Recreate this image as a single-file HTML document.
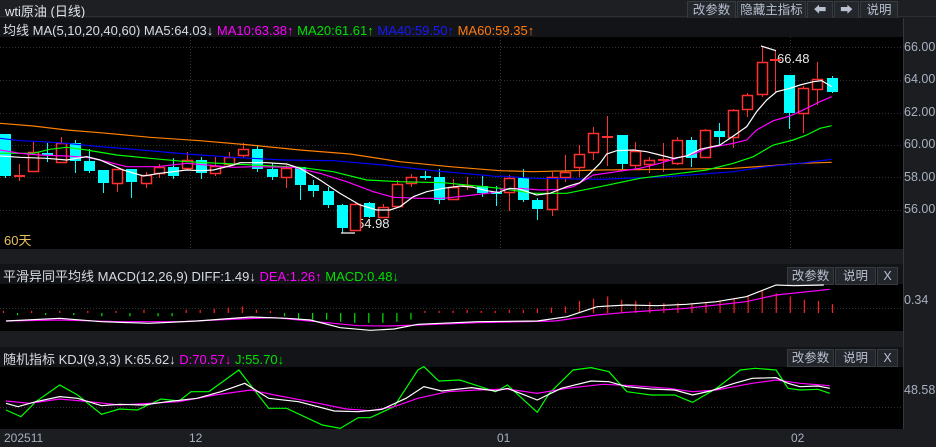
<!DOCTYPE html>
<html><head><meta charset="utf-8">
<style>
*{margin:0;padding:0;box-sizing:border-box}
body{width:936px;height:447px;background:#1b1d21;overflow:hidden;font-family:"Liberation Sans","Noto Sans CJK SC",sans-serif;position:relative}
.abs{position:absolute}
.t{font-size:13px;color:#d8dce4;white-space:nowrap}
.btn{position:absolute;background:#23262b;border:1px solid #363a41;color:#b8c0d0;font-size:12.5px;text-align:center;line-height:16px;height:18px}
.ax{position:absolute;font-size:12.5px;color:#a8b0c0;left:904px}
</style></head><body>
<div class="abs" style="left:0;top:0;width:936px;height:17px;background:#1d1f23;border-bottom:1px solid #2c2f35"></div>
<div class="abs t" style="left:5px;top:1px;font-size:13px;color:#e0e4ea">wti原油 (日线)</div>
<div class="btn" style="left:687px;top:1px;width:49px">改参数</div>
<div class="btn" style="left:737px;top:1px;width:69px">隐藏主指标</div>
<div class="btn" style="left:807px;top:1px;width:26px">⬅</div>
<div class="btn" style="left:834px;top:1px;width:25px">➡</div>
<div class="btn" style="left:860px;top:1px;width:38px">说明</div>
<div class="abs" style="left:0;top:18px;width:903px;height:19px;background:#131417"></div>
<div class="abs t" style="left:3px;top:20px">均线 MA(5,10,20,40,60) MA5:64.03↓ <span style="color:#ff00ff">MA10:63.38↑</span> <span style="color:#00e000">MA20:61.61↑</span> <span style="color:#1818ff">MA40:59.50↑</span> <span style="color:#ff7a10">MA60:59.35↑</span></div>
<div class="abs" style="left:0;top:37px;width:903px;height:212px;background:#000"></div>
<div class="abs" style="left:0;top:264px;width:903px;height:20px;background:#131417"></div>
<div class="abs t" style="left:3px;top:266px">平滑异同平均线 MACD(12,26,9) DIFF:1.49↓ <span style="color:#ff00ff">DEA:1.26↑</span> <span style="color:#00e000">MACD:0.48↓</span></div>
<div class="abs" style="left:0;top:284px;width:903px;height:47px;background:#000"></div>
<div class="abs" style="left:0;top:347px;width:903px;height:20px;background:#131417"></div>
<div class="abs t" style="left:3px;top:349px">随机指标 KDJ(9,3,3) K:65.62↓ <span style="color:#ff00ff">D:70.57↓</span> <span style="color:#00e000">J:55.70↓</span></div>
<div class="abs" style="left:0;top:367px;width:903px;height:62px;background:#000"></div>
<div class="abs" style="left:903px;top:18px;width:1px;height:411px;background:#34373d"></div>
<div class="btn" style="left:787px;top:267px;width:47px">改参数</div>
<div class="btn" style="left:835px;top:267px;width:41px">说明</div>
<div class="btn" style="left:877px;top:267px;width:21px">X</div>
<div class="btn" style="left:787px;top:349px;width:47px">改参数</div>
<div class="btn" style="left:835px;top:349px;width:41px">说明</div>
<div class="btn" style="left:877px;top:349px;width:21px">X</div>
<div class="ax" style="top:40px">66.00</div>
<div class="ax" style="top:72px">64.00</div>
<div class="ax" style="top:105px">62.00</div>
<div class="ax" style="top:137px">60.00</div>
<div class="ax" style="top:170px">58.00</div>
<div class="ax" style="top:202px">56.00</div>
<div class="ax" style="top:293px">0.34</div>
<div class="ax" style="top:383px">48.58</div>
<div class="abs t" style="left:4px;top:431px;color:#a8b0c0;font-size:12px">202511</div>
<div class="abs t" style="left:189px;top:431px;color:#a8b0c0;font-size:12px">12</div>
<div class="abs t" style="left:497px;top:431px;color:#a8b0c0;font-size:12px">01</div>
<div class="abs t" style="left:791px;top:431px;color:#a8b0c0;font-size:12px">02</div>
<div class="abs t" style="left:4px;top:230px;color:#e8c060">60天</div>
<div class="abs t" style="left:357px;top:216px;color:#e8e8e8">54.98</div>
<div class="abs t" style="left:777px;top:51px;color:#e8e8e8">66.48</div>
<svg class="abs" style="left:0;top:0" width="936" height="447" id="s">
<defs><clipPath id="c"><rect x="0" y="37" width="903" height="392"/></clipPath></defs>
<g stroke="#333" stroke-dasharray="1,2" stroke-width="1">
<line x1="0" x2="903" y1="47.5" y2="47.5"/><line x1="0" x2="903" y1="80.5" y2="80.5"/><line x1="0" x2="903" y1="113.5" y2="113.5"/><line x1="0" x2="903" y1="145.5" y2="145.5"/><line x1="0" x2="903" y1="177.5" y2="177.5"/><line x1="0" x2="903" y1="210.5" y2="210.5"/>
<line x1="0" x2="903" y1="308.5" y2="308.5"/><line x1="0" x2="903" y1="407.5" y2="407.5"/>
<line x1="190.5" x2="190.5" y1="37" y2="249"/><line x1="500.5" x2="500.5" y1="37" y2="249"/><line x1="790.5" x2="790.5" y1="37" y2="249"/>
</g>
<g id="cd" clip-path="url(#c)"></g>
<g clip-path="url(#c)" fill="none" stroke-width="1.2">
<g transform="translate(0,100) scale(0.33333)">
<polyline vector-effect="non-scaling-stroke" stroke="#ff8000" points="0,70 100,78 200,90 300,98 450,112 600,122 750,135 900,150 1050,162 1200,185 1350,200 1500,212"/>
<polyline vector-effect="non-scaling-stroke" stroke="#0000ff" points="0,115 60,122 130,125 200,130 300,140 400,148 560,162 700,172 850,180 1000,182 1150,195 1300,212 1500,230"/>
<polyline vector-effect="non-scaling-stroke" stroke="#00ff00" points="0,160 100,160 150,148 200,142 260,150 350,165 450,175 560,185 700,192 800,197 900,202 1000,215 1100,240 1200,245 1330,248 1430,258 1500,265"/>
<polyline vector-effect="non-scaling-stroke" stroke="#ff00ff" points="0,150 60,160 120,165 200,168 260,172 300,180 380,200 470,200 560,190 620,195 700,202 760,200 880,202 960,220 1040,245 1120,275 1180,292 1260,295 1330,295 1420,285 1500,275"/>
<polyline vector-effect="non-scaling-stroke" stroke="#ffffff" points="0,168 60,172 140,175 200,180 260,170 300,180 370,210 430,228 480,220 560,210 600,212 640,210 700,195 720,188 800,188 860,192 900,205 960,240 1020,280 1080,315 1130,330 1170,330 1200,320 1240,290 1280,275 1330,265 1380,258 1420,262 1460,272 1500,278"/>
</g>
<g transform="translate(500,30) scale(0.33333)">
<polyline vector-effect="non-scaling-stroke" stroke="#ff8000" points="0,422 100,425 300,420 500,418 700,415 800,408 900,400 995,397"/>
<polyline vector-effect="non-scaling-stroke" stroke="#0000ff" points="0,438 100,445 300,448 500,440 700,425 800,410 900,400 995,388"/>
<polyline vector-effect="non-scaling-stroke" stroke="#00ff00" points="0,475 100,490 200,490 300,470 420,445 540,430 620,420 700,400 760,380 820,345 880,330 920,315 960,295 995,287"/>
<polyline vector-effect="non-scaling-stroke" stroke="#ff00ff" points="0,478 60,475 120,480 180,478 220,470 280,435 350,425 420,415 480,400 540,382 580,372 620,355 700,340 740,330 770,300 820,272 870,258 920,235 960,215 995,200"/>
<polyline vector-effect="non-scaling-stroke" stroke="#ffffff" points="0,485 30,475 60,478 110,495 150,490 200,470 240,458 270,430 300,400 320,372 350,362 400,360 440,365 480,375 520,385 560,378 600,358 660,345 700,318 740,290 770,245 800,210 830,185 870,175 900,165 940,155 965,152 995,170"/>
<polyline vector-effect="non-scaling-stroke" stroke="#ffffff" points="783,48 828,62"/>
</g>
<polyline stroke="#fff" points="341,233 355,233"/>
<g id="hist"></g>
<g transform="translate(0,255) scale(0.597,0.33333)">
<polyline vector-effect="non-scaling-stroke" stroke="#ff00ff" points="10,198 100,195 200,200 300,200 400,192 460,188 530,200 600,212 650,213 700,210 800,203 930,198 1000,180 1050,172 1150,160 1250,140 1300,120 1390,103"/>
<polyline vector-effect="non-scaling-stroke" stroke="#ffffff" points="10,198 100,190 170,200 250,205 330,198 420,186 480,190 520,195 570,218 620,226 660,222 700,208 800,200 900,198 950,185 1000,155 1050,150 1100,152 1150,148 1200,140 1250,125 1300,90 1330,92 1380,90"/>
<polyline vector-effect="non-scaling-stroke" stroke="#00ff00" points="10,465 35,485 60,440 100,390 130,420 170,478 200,462 230,465 270,432 300,438 320,410 350,410 400,345 450,460 480,460 540,510 570,520 600,488 620,488 660,455 700,345 710,335 735,378 770,375 810,398 830,410 850,390 900,472 920,415 960,345 990,338 1020,350 1050,410 1090,420 1130,420 1160,442 1200,400 1240,345 1265,340 1300,345 1320,400 1340,405 1370,403 1390,415"/>
<polyline vector-effect="non-scaling-stroke" stroke="#ff00ff" points="10,438 50,445 100,432 150,440 200,450 250,445 300,440 360,420 420,405 460,420 520,440 580,462 620,467 660,455 700,430 750,410 800,405 850,402 900,415 950,400 1010,388 1060,392 1120,400 1160,410 1200,405 1260,385 1300,375 1340,385 1390,392"/>
<polyline vector-effect="non-scaling-stroke" stroke="#ffffff" points="10,445 30,455 60,440 100,425 130,430 170,452 200,448 240,450 280,440 330,430 370,410 410,385 450,430 500,440 560,468 600,470 640,463 680,430 710,395 740,408 790,398 830,408 850,400 900,435 940,400 990,378 1020,380 1050,395 1090,402 1130,405 1160,420 1190,408 1230,385 1260,370 1300,368 1320,385 1340,395 1370,393 1390,400"/>
</g>
</g>
</svg>
<script>
var C=[[5,'c',134,176,134,178],[19,'r',175,175,164,181],[33,'r',152,171,142,171],[47,'c',153,153,143,162],[61,'r',143,162,137,163],[75,'c',143,161,140,173],[89,'c',161,171,149,173],[103,'c',170,183,170,193],[117,'r',169,183,169,192],[131,'c',169,182,169,198],[146,'r',175,183,172,188],[159,'r',167,173,164,178],[173,'c',167,176,158,179],[187,'r',160,168,152,170],[201,'c',160,173,157,179],[215,'r',166,173,157,176],[229,'r',157,164,152,167],[243,'r',149,155,143,158],[257,'c',149,169,145,172],[272,'c',169,177,163,180],[286,'r',168,177,165,188],[300,'c',167,185,167,200],[313,'c',185,191,180,197],[328,'c',191,205,187,208],[342,'c',205,228,204,233],[355,'r',204,230,203,231],[369,'c',203,217,202,218],[383,'r',207,217,204,218],[397,'r',184,206,180,207],[411,'r',177,183,174,187],[425,'c',176,176,171,180],[439,'c',177,200,169,204],[453,'r',187,199,179,200],[467,'r',185,185,177,190],[482,'c',186,193,176,197],[496,'c',192,192,186,206],
[509,'r',178,192,175,211],[523,'c',178,200,169,202],[537,'c',200,209,198,220],[552,'r',177,209,172,216],[565,'r',172,177,155,182],[579,'r',154,167,145,177],[593,'r',133,152,127,160],[607,'r',136,136,116,166],[622,'c',135,164,135,169],[635,'r',151,165,142,170],[649,'r',160,164,157,173],[663,'r',159,159,143,172],[677,'r',140,163,137,165],[691,'c',140,158,137,167],[705,'r',130,157,129,158],[719,'c',131,137,123,145],[733,'r',110,137,109,148],[747,'r',95,109,93,117],[762,'r',62,94,46,97],[775,'r',59,59,51,92],[789,'c',75,113,75,129],[803,'r',88,113,86,133],[817,'r',79,89,62,105],[832,'c',78,92,76,93]];
var ns='http://www.w3.org/2000/svg',g=document.getElementById('cd'),h='';
C.forEach(function(c){var x=c[0],col=c[1]=='r'?'#ff3030':'#00ffff';
h+='<line x1="'+(x+.5)+'" x2="'+(x+.5)+'" y1="'+c[4]+'" y2="'+c[5]+'" stroke="'+col+'"/>';
var hh=c[3]-c[2];
if(hh<2){h+='<rect x="'+(x-5)+'" y="'+c[2]+'" width="11" height="2" fill="'+col+'"/>';}
else if(c[1]=='r'){h+='<rect x="'+(x-4.5)+'" y="'+(c[2]+.5)+'" width="10" height="'+hh+'" fill="#000" stroke="'+col+'" stroke-width="1.5"/>';}
else{h+='<rect x="'+(x-5)+'" y="'+c[2]+'" width="11" height="'+hh+'" fill="'+col+'"/>';}});
g.innerHTML=h;
var H=[2,-2,2,-2,2,-2,2,-3,2,-3,3,-3,-3,3,3,4,5,6,3,2,-3,-5,-6,-6,-8,-9,-9,-9,-8,-6,2,2,2,3,2,2,3,3,4,5,6,11,13,15,12,11,10,9,9,9,10,11,13,16,20,18,15,12,11,8];
var hs='';
H.forEach(function(v,i){var x=3+i*14.05+.5,col=v>0?'#ff2020':'#00e000';
hs+='<line x1="'+x+'" x2="'+x+'" y1="313" y2="'+(313-v*1.1)+'" stroke="'+col+'"/>';});
document.getElementById('hist').innerHTML=hs;
</script>
</body></html>
